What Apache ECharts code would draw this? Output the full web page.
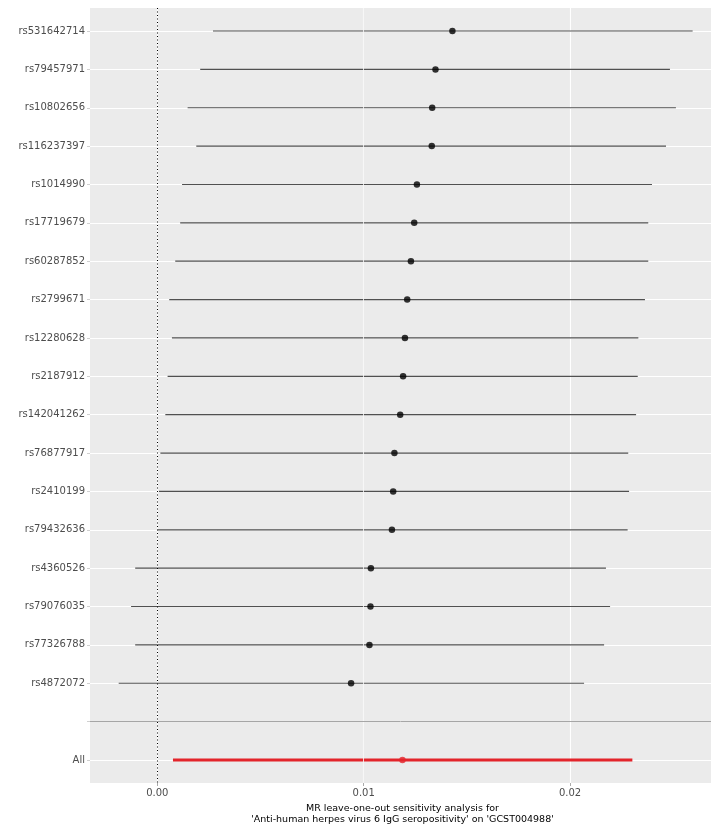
<!DOCTYPE html>
<html>
<head>
<meta charset="utf-8">
<script src="https://cdn.jsdelivr.net/npm/echarts@6/dist/echarts.min.js"></script>
<style>
  html, body { margin: 0; padding: 0; background: #ffffff; }
  #chart { width: 711px; height: 830px; }
</style>
</head>
<body>
<div id="chart"></div>
<script>
// Leave-one-out MR estimates: one row per excluded SNP, a spacer row, then the pooled "All" estimate
const snps = [
  'rs531642714', 'rs79457971', 'rs10802656', 'rs116237397', 'rs1014990',
  'rs17719679', 'rs60287852', 'rs2799671', 'rs12280628', 'rs2187912',
  'rs142041262', 'rs76877917', 'rs2410199', 'rs79432636', 'rs4360526',
  'rs79076035', 'rs77326788', 'rs4872072', '', 'All'
];
const estimate = [
  0.01430, 0.01348, 0.01332, 0.01330, 0.01258,
  0.01245, 0.01229, 0.01211, 0.01200, 0.01191,
  0.01177, 0.01149, 0.01143, 0.01137, 0.01035,
  0.01033, 0.01028, 0.00939, null, 0.01188
];
const lower = [
  0.00270, 0.00208, 0.00147, 0.00189, 0.00120,
  0.00111, 0.00087, 0.00058, 0.00071, 0.00050,
  0.00039, 0.00015, 0.00008, 0.00002, -0.00107,
  -0.00127, -0.00107, -0.00187, null, 0.00076
];
const upper = [
  0.02594, 0.02484, 0.02513, 0.02465, 0.02397,
  0.02379, 0.02379, 0.02363, 0.02331, 0.02328,
  0.02320, 0.02282, 0.02286, 0.02279, 0.02174,
  0.02194, 0.02165, 0.02068, null, 0.02302
];
const xTicks = [0, 0.01, 0.02];
const xMinorTicks = [0.005, 0.015, 0.025];
const xTitle = "MR leave-one-out sensitivity analysis for\n'Anti-human herpes virus 6 IgG seropositivity' on 'GCST004988'";

const rowIndex = snps.map((_, i) => i);
const spacerIndex = snps.indexOf('');
const allIndex = snps.indexOf('All');
const RED = '#e3242b';

const intervals = [];
const points = [];
snps.forEach((name, i) => {
  if (estimate[i] === null) return;
  intervals.push([lower[i], upper[i], i]);
  points.push({
    value: [estimate[i], i],
    itemStyle: { color: i === allIndex ? RED : '#000000' }
  });
});

const chart = echarts.init(document.getElementById('chart'), null, { renderer: 'canvas' });

chart.setOption({
  animation: false,
  backgroundColor: '#ffffff',
  grid: {
    left: 90,
    right: 0,
    top: 8,
    bottom: 46,
    show: true,
    backgroundColor: '#EBEBEB',
    borderWidth: 0
  },
  xAxis: {
    type: 'value',
    min: -0.00326,
    max: 0.02683,
    name: xTitle,
    nameLocation: 'middle',
    nameGap: 20,
    nameTextStyle: {
      fontFamily: 'DejaVu Sans',
      fontSize: 9.5,
      color: '#000000',
      lineHeight: 11,
      verticalAlign: 'top',
      padding: [0, 0, 0, 4]
    },
    axisLine: { show: false, onZero: false },
    axisTick: {
      show: true,
      length: 3,
      customValues: xTicks,
      lineStyle: { color: '#aaaaaa', width: 1 }
    },
    axisLabel: {
      customValues: xTicks,
      margin: 5,
      fontFamily: 'DejaVu Sans',
      fontSize: 10,
      color: '#4D4D4D',
      formatter: v => v.toFixed(2)
    },
    splitLine: { show: true, lineStyle: { color: '#ffffff', width: 1.1 } }
  },
  yAxis: {
    type: 'value',
    inverse: true,
    min: -0.6,
    max: 19.6,
    axisLine: { show: false, onZero: false },
    axisTick: {
      show: true,
      length: 3,
      customValues: rowIndex,
      lineStyle: { color: '#d0d0d0', width: 1 }
    },
    axisLabel: {
      customValues: rowIndex,
      margin: 5,
      fontFamily: 'DejaVu Sans',
      fontSize: 10,
      color: '#4D4D4D',
      formatter: v => snps[Math.round(v)] || ''
    },
    splitLine: { show: true, lineStyle: { color: '#ffffff', width: 1.1 } }
  },
  series: [
    {
      // minor vertical grid, zero reference and spacer separator
      type: 'line',
      data: [],
      z: 1,
      silent: true,
      markLine: {
        silent: true,
        symbol: ['none', 'none'],
        label: { show: false },
        animation: false,
        data: [
          ...xMinorTicks.map(v => ({ xAxis: v, lineStyle: { color: '#F5F5F5', width: 0.6, type: 'solid' } })),
          { yAxis: spacerIndex, lineStyle: { color: '#A6A6A6', width: 1, type: 'solid' } },
          { xAxis: 0, lineStyle: { color: '#000000', width: 1, type: [1, 2.5] } }
        ]
      }
    },
    {
      type: 'custom',
      z: 3,
      data: intervals,
      encode: { x: [0, 1], y: 2 },
      renderItem: function (params, api) {
        const idx = api.value(2);
        const a = api.coord([api.value(0), idx]);
        const b = api.coord([api.value(1), idx]);
        const isAll = idx === allIndex;
        return {
          type: 'line',
          shape: { x1: a[0], y1: a[1], x2: b[0], y2: b[1] },
          style: { stroke: isAll ? RED : '#505050', lineWidth: isAll ? 3 : 1.2 }
        };
      }
    },
    {
      type: 'scatter',
      z: 4,
      symbol: 'circle',
      symbolSize: 6.5,
      data: points
    }
  ]
});
</script>
</body>
</html>
